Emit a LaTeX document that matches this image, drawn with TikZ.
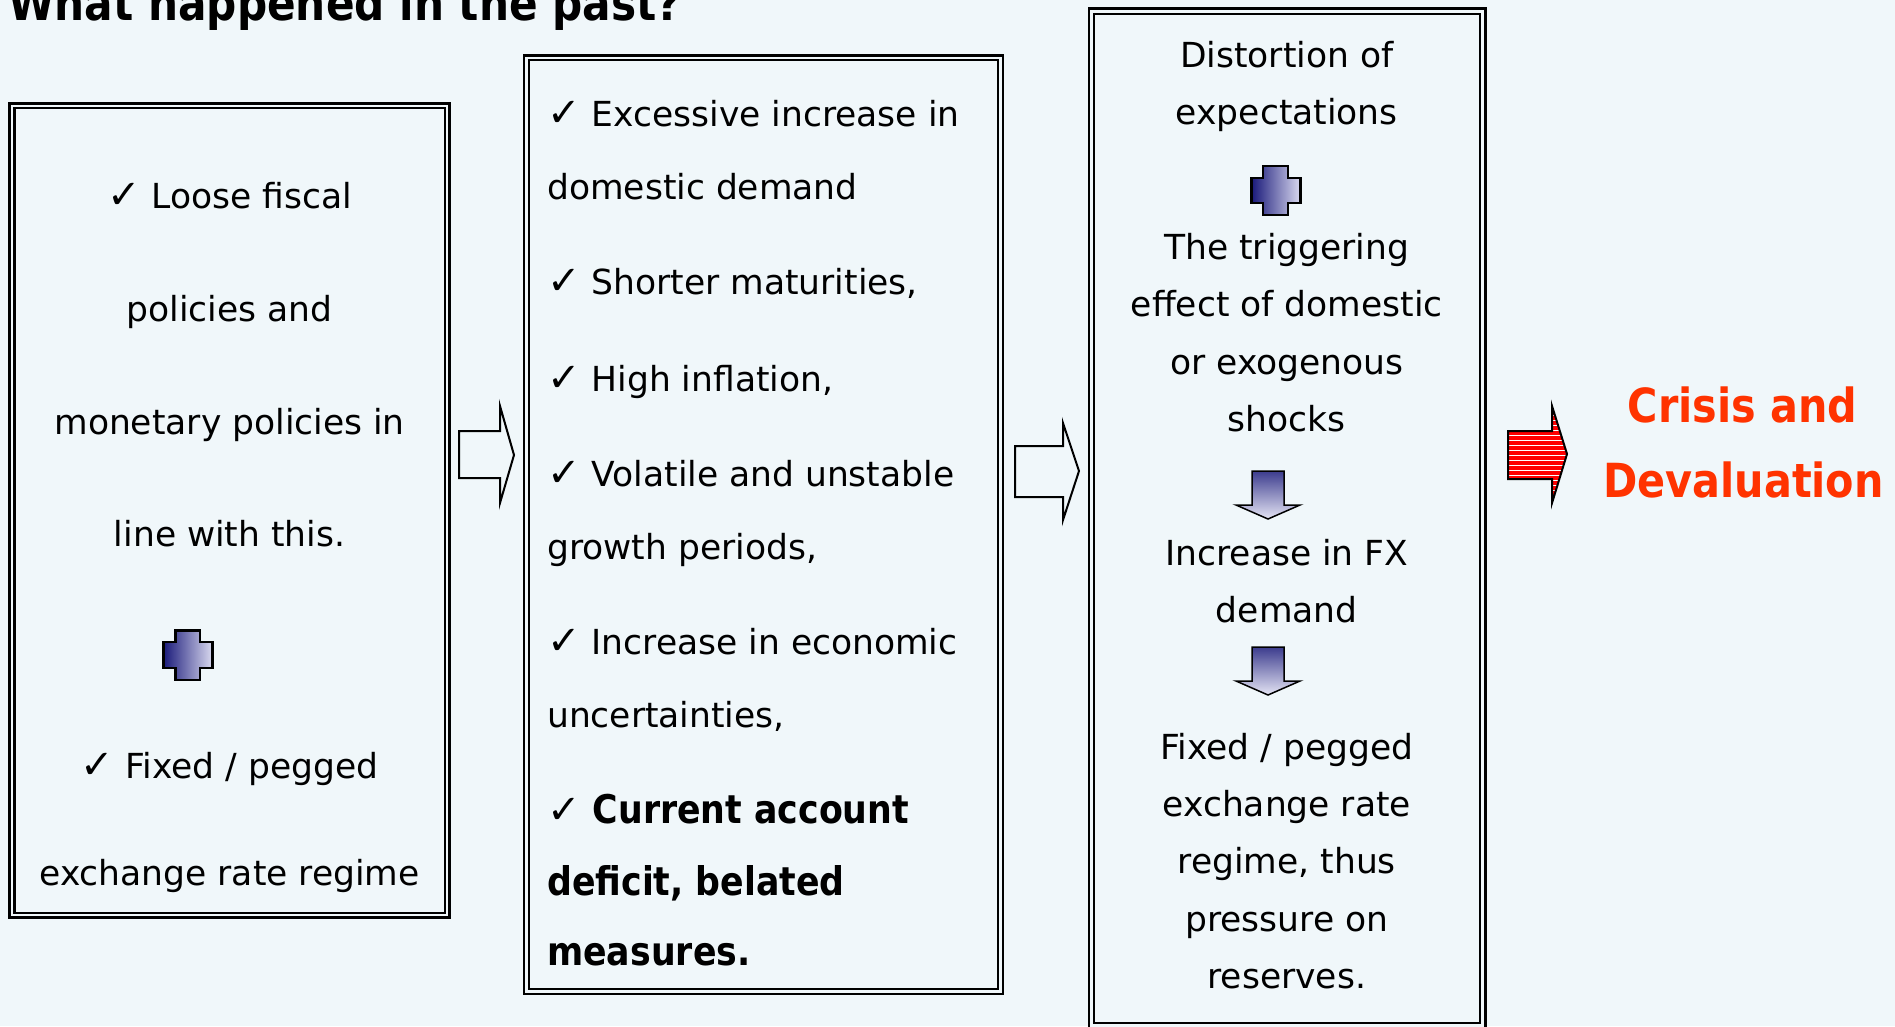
\documentclass[tikz,border=0pt]{standalone}
\usepackage{fontspec}
\setmainfont{DejaVu Sans}
\newfontfamily\narrowbold{DejaVu Sans}[FakeStretch=0.88]
\definecolor{bg}{RGB}{240,247,250}
\definecolor{crisisred}{RGB}{255,51,0}
\definecolor{navy}{RGB}{26,26,122}
\definecolor{paleblue}{RGB}{218,218,240}
\tikzset{
  txt/.style={font=\fontsize{34.5}{40}\selectfont, inner sep=0pt, anchor=base},
  ltxt/.style={txt, anchor=base west},
  btxt/.style={font=\narrowbold\bfseries\fontsize{39.5}{45}\selectfont, inner sep=0pt, anchor=base west},
  redtxt/.style={font=\narrowbold\bfseries\fontsize{47}{52}\selectfont, text=crisisred, inner sep=0pt, anchor=base},
  outerline/.style={draw=black, line width=2.7pt},
  innerline/.style={draw=black, line width=2.3pt},
  hollowarrow/.style={draw=black, line width=2pt, fill=bg, line join=miter},
  plusicon/.style={draw=black, line width=2.5pt, left color=navy, right color=paleblue, line join=miter},
  downarrow/.style={draw=black, line width=1.5pt, top color=navy!85!white, bottom color=paleblue!70!white, line join=miter},
}
\newcommand{\chk}{{\fontsize{40}{40}\selectfont ✓}}
\begin{document}
\begin{tikzpicture}[x=1pt,y=-1pt]
\fill[bg] (0,0) rectangle (1895,1026);
\useasboundingbox (0,0) rectangle (1895,1026);

% title
\node[font=\narrowbold\bfseries\fontsize{48}{54}\selectfont, inner sep=0pt, anchor=base west] (title) at (8,20) {What happened in the past?};

% box outlines
\draw[outerline, fill=bg] (9.7,103.5) rectangle (449.5,917.5);
\draw[innerline] (14.5,108.3) rectangle (444.7,912.7);
\draw[outerline, fill=bg] (524,55.5) rectangle (1003,994);
\draw[innerline] (528.8,60.3) rectangle (998.2,989.2);
\draw[outerline, fill=bg] (1089,8.5) rectangle (1485.7,1029);
\draw[innerline] (1094,13.7) rectangle (1479.7,1023);

% box 1 text
\node[txt] (a1) at (229.6,208) {\chk\ Loose fiscal};
\node[txt] (a2) at (229.6,321) {policies and};
\node[txt] (a3) at (229.6,434) {monetary policies in};
\node[txt] (a4) at (229.6,546) {line with this.};
\node[txt] (a5) at (229.6,778) {\chk\ Fixed / pegged};
\node[txt] (a6) at (229.6,885) {exchange rate regime};

% plus in box 1
\draw[plusicon] (175.7,630.7) -- (200,630.7) -- (200,642) -- (212.7,642) -- (212.7,668) -- (200,668) -- (200,680) -- (175.7,680) -- (175.7,668) -- (163.3,668) -- (163.3,642) -- (175.7,642) -- cycle;

% box 2 text
\node[ltxt] (b1) at (547,126.6) {\chk\ Excessive increase in};
\node[ltxt] (b2) at (547,199) {domestic demand};
\node[ltxt] (b3) at (547,294.6) {\chk\ Shorter maturities,};
\node[ltxt] (b4) at (547,391.3) {\chk\ High inflation,};
\node[ltxt] (b5) at (547,486.8) {\chk\ Volatile and unstable};
\node[ltxt] (b6) at (547,559.3) {growth periods,};
\node[ltxt] (b7) at (547,654.8) {\chk\ Increase in economic};
\node[ltxt] (b8) at (547,727.3) {uncertainties,};
\node[btxt] (b9) at (547,823) {{\normalfont\chk}\ Current account};
\node[btxt] (b10) at (547,895) {deficit, belated};
\node[btxt] (b11) at (547,965) {measures.};

% box 3 text
\node[txt] (c1) at (1286.8,67.6) {Distortion of};
\node[txt] (c2) at (1286.8,124.4) {expectations};
\node[txt] (c3) at (1286.8,259.3) {The triggering};
\node[txt] (c4) at (1286.8,316.7) {effect of domestic};
\node[txt] (c5) at (1286.8,374.1) {or exogenous};
\node[txt] (c6) at (1286.8,431.5) {shocks};
\node[txt] (c7) at (1286.8,565.5) {Increase in FX};
\node[txt] (c8) at (1286.8,622.9) {demand};
\node[txt] (c9) at (1286.8,759) {Fixed / pegged};
\node[txt] (c10) at (1286.8,816.4) {exchange rate};
\node[txt] (c11) at (1286.8,873.8) {regime, thus};
\node[txt] (c12) at (1286.8,931.2) {pressure on};
\node[txt] (c13) at (1286.8,988.6) {reserves.};

% plus in box 3
\draw[plusicon] (1263,166) -- (1288,166) -- (1288,178) -- (1300.7,178) -- (1300.7,203) -- (1288,203) -- (1288,215) -- (1263,215) -- (1263,203) -- (1251.7,203) -- (1251.7,178) -- (1263,178) -- cycle;

% down arrows in box 3
\draw[downarrow] (1252,471) -- (1284,471) -- (1284,505) -- (1300,505) -- (1268,519) -- (1236,505) -- (1252,505) -- cycle;
\draw[downarrow] (1252,647) -- (1284,647) -- (1284,681) -- (1300,681) -- (1268,695) -- (1236,681) -- (1252,681) -- cycle;

% hollow arrows between boxes
\draw[hollowarrow] (459,431) -- (500,431) -- (500,406) -- (514,455) -- (500,503) -- (500,478) -- (459,478) -- cycle;
\draw[hollowarrow] (1015,446) -- (1063,446) -- (1063,423) -- (1079,471) -- (1063,520) -- (1063,497) -- (1015,497) -- cycle;

% red striped arrow
\fill[red] (1508,431) -- (1552,431) -- (1552,406) -- (1567,454) -- (1552,503) -- (1552,479) -- (1508,479) -- cycle;
\begin{scope}
  \clip (1508,431) -- (1552,431) -- (1552,406) -- (1567,454) -- (1552,503) -- (1552,479) -- (1508,479) -- cycle;
  \foreach \yy in {405,410,...,505} { \draw[white, line width=0.9pt] (1500,\yy) -- (1575,\yy); }
\end{scope}
\draw[draw=black, line width=2pt, line join=miter] (1508,431) -- (1552,431) -- (1552,406) -- (1567,454) -- (1552,503) -- (1552,479) -- (1508,479) -- cycle;

% crisis text
\node[redtxt] (r1) at (1742.5,422) {Crisis and};
\node[redtxt] (r2) at (1743.5,497.7) {Devaluation};
\end{tikzpicture}
\end{document}
